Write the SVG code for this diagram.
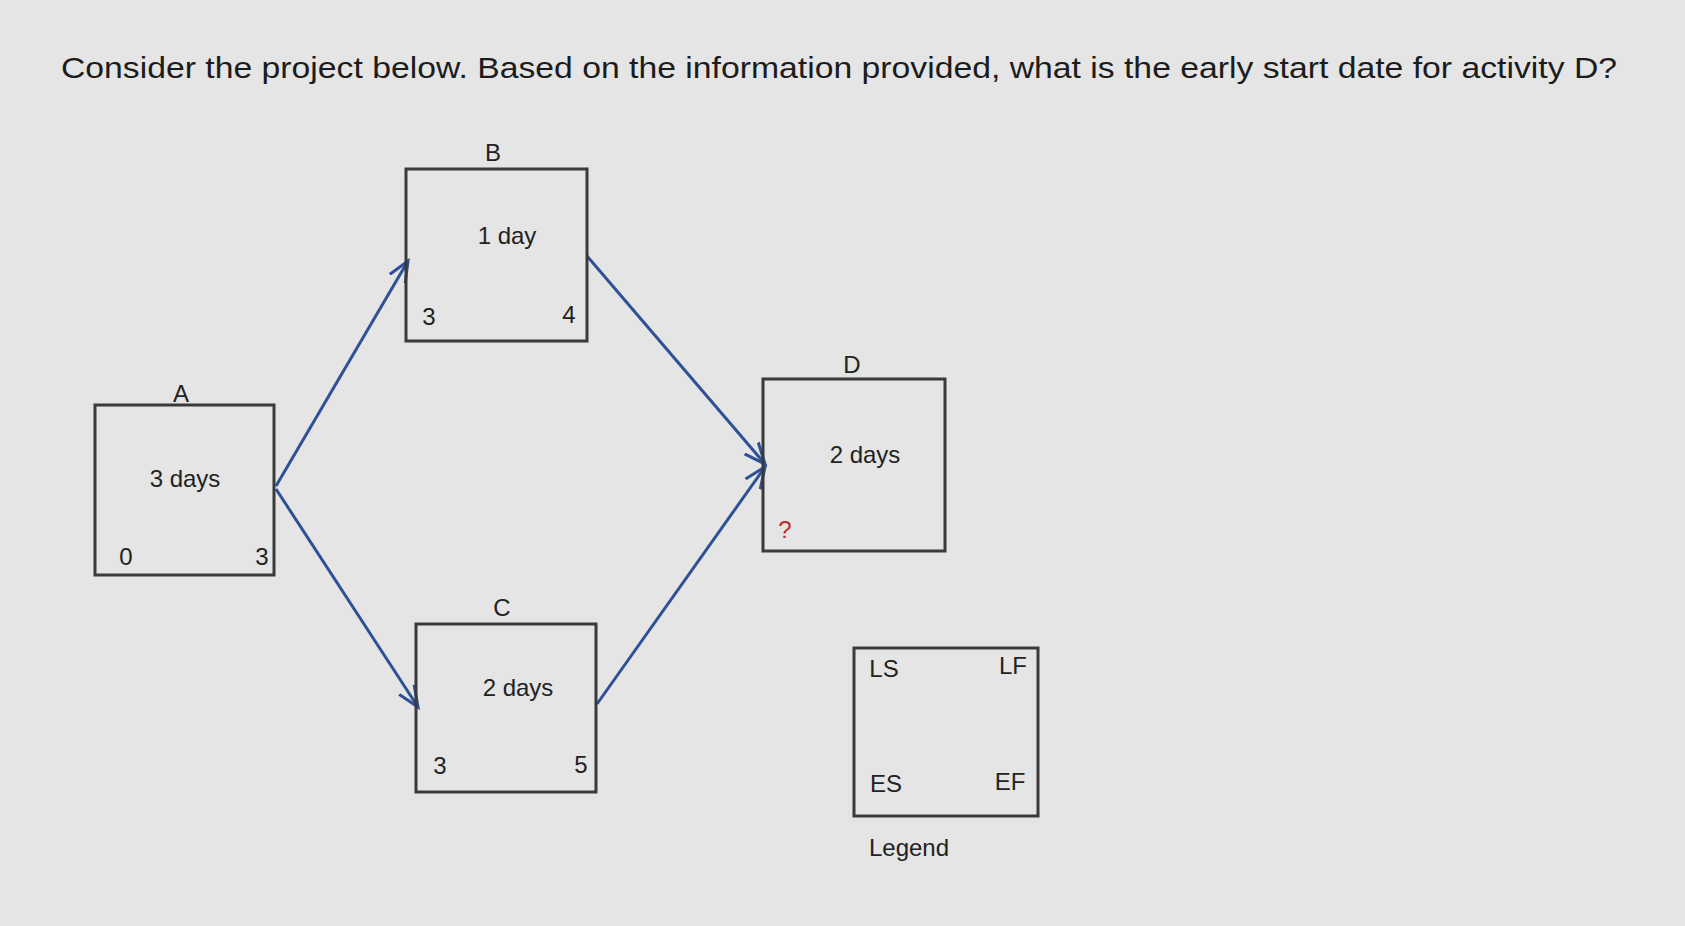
<svg xmlns="http://www.w3.org/2000/svg" width="1685" height="926" viewBox="0 0 1685 926">
<defs>
<style>
.box{fill:none;stroke:#3a3a3a;stroke-width:3}
.t{font-family:"Liberation Sans",Arial,sans-serif;font-size:24px;fill:#222;text-anchor:middle}
.c{stroke:#2e5097;stroke-width:3;fill:none;marker-end:url(#ah)}
</style>
<marker id="ah" markerWidth="8" markerHeight="8" refX="7" refY="4" orient="auto" markerUnits="strokeWidth"><path d="M0,1 L7,4 L0,7" fill="none" stroke="#2e5097" stroke-width="1"/></marker>
</defs>
<rect width="1685" height="926" fill="#e4e5e4"/>
<text x="61" y="78" font-family="Liberation Sans,Arial,sans-serif" font-size="30" fill="#1c1c1c" textLength="1556" lengthAdjust="spacingAndGlyphs">Consider the project below. Based on the information provided, what is the early start date for activity D?</text>
<g id="connectors">
<line class="c" x1="276" y1="486" x2="408" y2="261"/>
<line class="c" x1="276" y1="489" x2="418" y2="707"/>
<line class="c" x1="587" y1="256" x2="765" y2="464"/>
<line class="c" x1="597" y1="704" x2="765" y2="467"/>
</g>
<g id="A"><rect class="box" x="95" y="405" width="179" height="170"/>
<text class="t" x="181" y="402">A</text><text class="t" x="185" y="487">3 days</text>
<text class="t" x="126" y="565">0</text><text class="t" x="262" y="565">3</text></g>
<g id="B"><rect class="box" x="406" y="169" width="181" height="172"/>
<text class="t" x="493" y="161">B</text><text class="t" x="507" y="244">1 day</text>
<text class="t" x="429" y="325">3</text><text class="t" x="569" y="323">4</text></g>
<g id="C"><rect class="box" x="416" y="624" width="180" height="168"/>
<text class="t" x="502" y="616">C</text><text class="t" x="518" y="696">2 days</text>
<text class="t" x="440" y="774">3</text><text class="t" x="581" y="773">5</text></g>
<g id="D"><rect class="box" x="763" y="379" width="182" height="172"/>
<text class="t" x="852" y="373">D</text><text class="t" x="865" y="463">2 days</text>
<text class="t" x="785" y="538" style="fill:#c0282a">?</text></g>
<g id="Legend"><rect class="box" x="854" y="648" width="184" height="168"/>
<text class="t" x="884" y="677">LS</text><text class="t" x="1013" y="674">LF</text>
<text class="t" x="886" y="792">ES</text><text class="t" x="1010" y="790">EF</text>
<text class="t" x="909" y="856">Legend</text></g>
</svg>
